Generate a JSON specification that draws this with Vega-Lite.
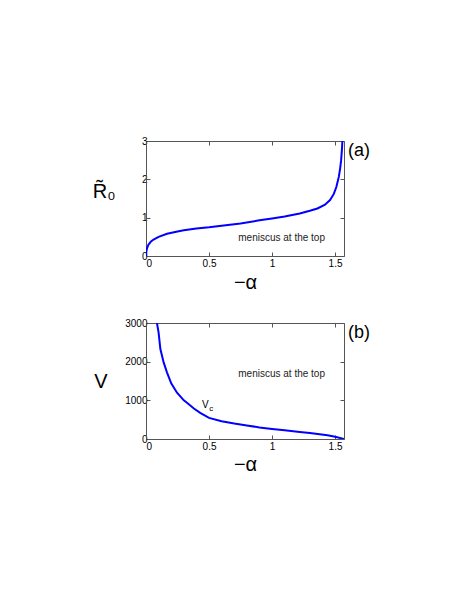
{
  "$schema": "https://vega.github.io/schema/vega-lite/v6.json",
  "background": "white",
  "padding": {"left": 92, "top": 136, "right": 0, "bottom": 0},
  "spacing": 26,
  "config": {
    "view": {"stroke": null},
    "font": "Liberation Sans",
    "axis": {
      "labelFont": "Liberation Sans",
      "labelFontSize": 10,
      "labelColor": "#000",
      "titleFont": "Liberation Sans",
      "titleFontSize": 20,
      "titleFontWeight": "normal",
      "titleColor": "#000",
      "domainColor": "#555",
      "tickColor": "#555",
      "tickSize": -4,
      "labelPadding": 3,
      "grid": false
    },
    "axisX": {"labelPadding": 6}
  },
  "datasets": {
    "top": [
      {"a": 0, "r": 0},
      {"a": 0.003, "r": 0.12},
      {"a": 0.008, "r": 0.2},
      {"a": 0.02, "r": 0.3},
      {"a": 0.04, "r": 0.38},
      {"a": 0.06, "r": 0.43},
      {"a": 0.1, "r": 0.5},
      {"a": 0.167, "r": 0.58},
      {"a": 0.25, "r": 0.64},
      {"a": 0.3, "r": 0.67},
      {"a": 0.4, "r": 0.72},
      {"a": 0.5, "r": 0.75},
      {"a": 0.6, "r": 0.79},
      {"a": 0.75, "r": 0.85},
      {"a": 0.9, "r": 0.93},
      {"a": 1.0, "r": 0.98},
      {"a": 1.1, "r": 1.03},
      {"a": 1.22, "r": 1.11},
      {"a": 1.3, "r": 1.18},
      {"a": 1.36, "r": 1.24},
      {"a": 1.42, "r": 1.34},
      {"a": 1.46, "r": 1.46},
      {"a": 1.49, "r": 1.62},
      {"a": 1.51, "r": 1.8},
      {"a": 1.53, "r": 2.07},
      {"a": 1.54, "r": 2.28},
      {"a": 1.548, "r": 2.5},
      {"a": 1.555, "r": 2.8},
      {"a": 1.558, "r": 3.0}
    ],
    "bottom": [
      {"a": 0.087, "v": 3000},
      {"a": 0.1, "v": 2750},
      {"a": 0.114, "v": 2325},
      {"a": 0.14, "v": 1980},
      {"a": 0.167, "v": 1717},
      {"a": 0.2, "v": 1440},
      {"a": 0.246, "v": 1197},
      {"a": 0.3, "v": 1000},
      {"a": 0.325, "v": 937},
      {"a": 0.38, "v": 790},
      {"a": 0.43, "v": 677},
      {"a": 0.5, "v": 546},
      {"a": 0.6, "v": 460},
      {"a": 0.7, "v": 400},
      {"a": 0.8, "v": 350},
      {"a": 0.9, "v": 300},
      {"a": 1.0, "v": 260},
      {"a": 1.1, "v": 225},
      {"a": 1.22, "v": 182},
      {"a": 1.3, "v": 155},
      {"a": 1.44, "v": 95},
      {"a": 1.5, "v": 60},
      {"a": 1.5708, "v": 0}
    ],
    "one": [{}]
  },
  "vconcat": [
    {
      "width": 198,
      "height": 115,
      "resolve": {"axis": {"x": "independent", "y": "independent"}},
      "layer": [
        {
          "data": {"name": "top"},
          "mark": {"type": "line", "color": "#0000ff", "strokeWidth": 2, "clip": true},
          "encoding": {
            "x": {"field": "a", "type": "quantitative", "scale": {"domain": [0, 1.5708], "nice": false},
                  "axis": {"values": [0, 0.5, 1, 1.5], "format": "~g", "title": "−α", "titleX": 99, "titleY": 26, "titleBaseline": "middle"}},
            "y": {"field": "r", "type": "quantitative", "scale": {"domain": [0, 3], "nice": false},
                  "axis": {"values": [0, 1, 2, 3], "format": "d", "title": "R̃₀", "titleAngle": 0, "titleAlign": "right", "titleBaseline": "middle", "titleX": -31, "titleY": 50}}
          }
        },
        {
          "data": {"name": "top"},
          "mark": {"type": "line", "opacity": 0},
          "encoding": {
            "x": {"field": "a", "type": "quantitative", "axis": {"orient": "top", "values": [0, 0.5, 1, 1.5], "labels": false, "title": null}},
            "y": {"field": "r", "type": "quantitative", "axis": {"orient": "right", "values": [0, 1, 2, 3], "labels": false, "title": null}}
          }
        },
        {
          "data": {"name": "one"},
          "mark": {"type": "text", "text": "meniscus at the top", "fontSize": 10, "color": "#222", "align": "center", "baseline": "middle"},
          "encoding": {
            "x": {"datum": 1.076, "type": "quantitative", "axis": null},
            "y": {"datum": 0.48, "type": "quantitative", "axis": null}
          }
        },
        {
          "data": {"name": "one"},
          "mark": {"type": "text", "text": "(a)", "fontSize": 18, "color": "#000", "align": "left", "baseline": "middle", "dx": 4},
          "encoding": {
            "x": {"datum": 1.5708, "type": "quantitative", "axis": null},
            "y": {"datum": 2.74, "type": "quantitative", "axis": null}
          }
        }
      ]
    },
    {
      "width": 198,
      "height": 116,
      "resolve": {"axis": {"x": "independent", "y": "independent"}},
      "layer": [
        {
          "data": {"name": "bottom"},
          "mark": {"type": "line", "color": "#0000ff", "strokeWidth": 2, "clip": true},
          "encoding": {
            "x": {"field": "a", "type": "quantitative", "scale": {"domain": [0, 1.5708], "nice": false},
                  "axis": {"values": [0, 0.5, 1, 1.5], "format": "~g", "title": "−α", "titleX": 99, "titleY": 25, "titleBaseline": "middle"}},
            "y": {"field": "v", "type": "quantitative", "scale": {"domain": [0, 3000], "nice": false},
                  "axis": {"values": [0, 1000, 2000, 3000], "format": "d", "title": "V", "titleAngle": 0, "titleAlign": "right", "titleBaseline": "middle", "titleX": -39, "titleY": 58}}
          }
        },
        {
          "data": {"name": "bottom"},
          "mark": {"type": "line", "opacity": 0},
          "encoding": {
            "x": {"field": "a", "type": "quantitative", "axis": {"orient": "top", "values": [0, 0.5, 1, 1.5], "labels": false, "title": null}},
            "y": {"field": "v", "type": "quantitative", "axis": {"orient": "right", "values": [0, 1000, 2000, 3000], "labels": false, "title": null}}
          }
        },
        {
          "data": {"name": "one"},
          "mark": {"type": "text", "text": "meniscus at the top", "fontSize": 10, "color": "#222", "align": "center", "baseline": "middle"},
          "encoding": {
            "x": {"datum": 1.076, "type": "quantitative", "axis": null},
            "y": {"datum": 1689, "type": "quantitative", "axis": null}
          }
        },
        {
          "data": {"name": "one"},
          "mark": {"type": "text", "text": "V", "fontSize": 10, "color": "#000", "align": "center", "baseline": "middle"},
          "encoding": {
            "x": {"datum": 0.47, "type": "quantitative", "axis": null},
            "y": {"datum": 870, "type": "quantitative", "axis": null}
          }
        },
        {
          "data": {"name": "one"},
          "mark": {"type": "text", "text": "c", "fontSize": 8, "color": "#000", "align": "left", "baseline": "middle", "dx": 4, "dy": 4},
          "encoding": {
            "x": {"datum": 0.47, "type": "quantitative", "axis": null},
            "y": {"datum": 870, "type": "quantitative", "axis": null}
          }
        },
        {
          "data": {"name": "one"},
          "mark": {"type": "text", "text": "(b)", "fontSize": 18, "color": "#000", "align": "left", "baseline": "middle", "dx": 4},
          "encoding": {
            "x": {"datum": 1.5708, "type": "quantitative", "axis": null},
            "y": {"datum": 2749, "type": "quantitative", "axis": null}
          }
        }
      ]
    }
  ]
}
